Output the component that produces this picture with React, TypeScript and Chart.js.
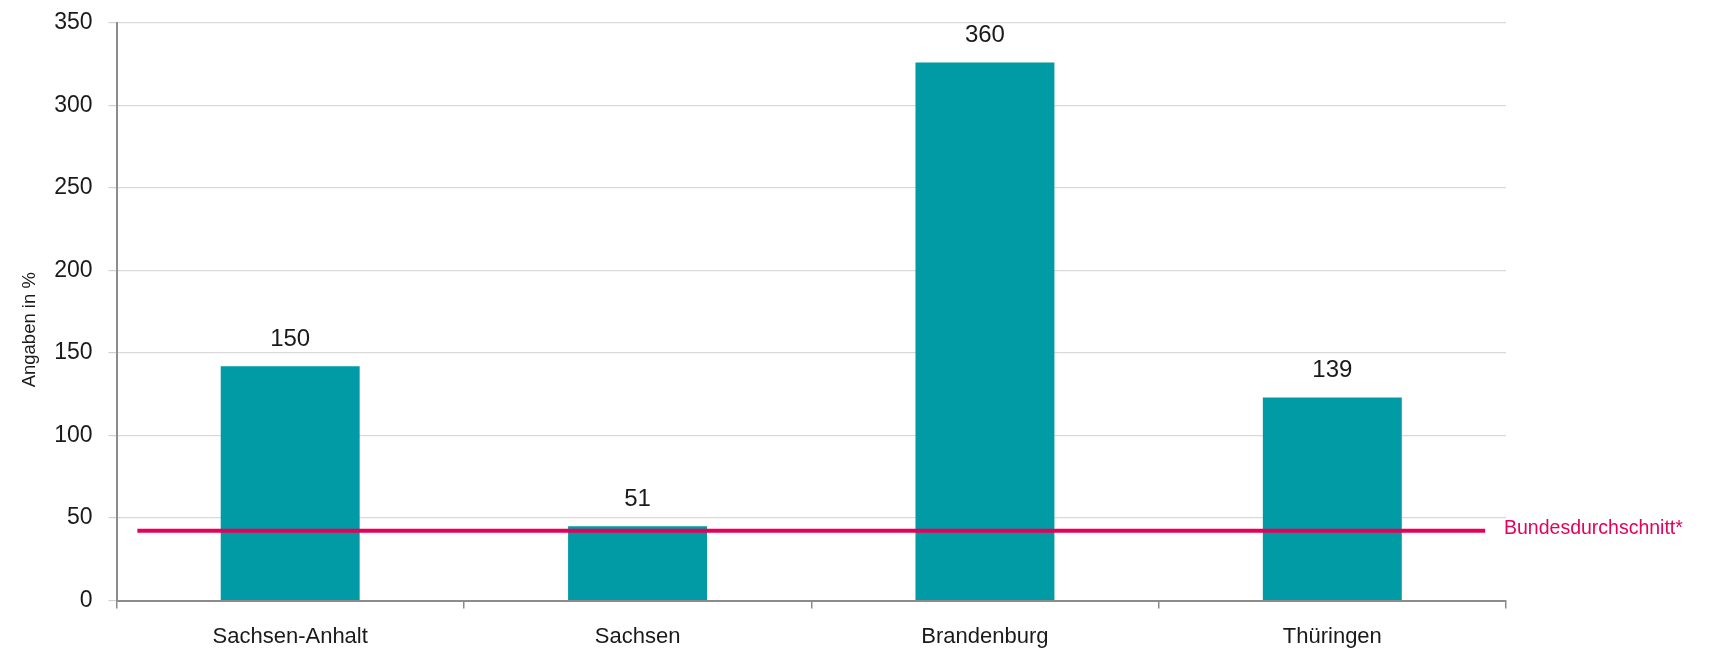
import React, { useEffect, useRef } from 'react';
import { Chart, registerables } from 'chart.js';

Chart.register(...registerables);

const categories = ['Sachsen-Anhalt', 'Sachsen', 'Brandenburg', 'Thüringen'];
const barValues = [142, 45, 326, 123];
const barLabels = ['150', '51', '360', '139'];
const averageValue = 42.3;
const averageLabel = 'Bundesdurchschnitt*';
const yAxisTitle = 'Angaben in %';
const yMin = 0;
const yMax = 350;
const yStep = 50;

const FONT = '"Liberation Sans", Arial, sans-serif';
const TEXT = '#1a1a1a';
const BAR = '#009ba4';
const PINK = '#e5005a';

const overlayPlugin = {
  id: 'overlay',
  afterDatasetsDraw(chart: any) {
    const ctx = chart.ctx;
    const x = chart.scales.x;
    const y = chart.scales.y;
    const meta = chart.getDatasetMeta(0);
    ctx.save();
    // value labels above bars
    ctx.font = `24px ${FONT}`;
    ctx.fillStyle = TEXT;
    ctx.textAlign = 'center';
    ctx.textBaseline = 'middle';
    meta.data.forEach((bar: any, i: number) => {
      ctx.fillText(barLabels[i], bar.x, bar.y - 27);
    });
    // average line
    const ly = y.getPixelForValue(averageValue);
    const x0 = x.getPixelForValue(-0.44);
    const x1 = x.getPixelForValue(categories.length - 1 + 0.44);
    ctx.strokeStyle = PINK;
    ctx.lineWidth = 4;
    ctx.beginPath();
    ctx.moveTo(x0, ly);
    ctx.lineTo(x1, ly);
    ctx.stroke();
    ctx.font = `19.5px ${FONT}`;
    ctx.fillStyle = PINK;
    ctx.textAlign = 'left';
    ctx.fillText(averageLabel, x.right - 2, ly - 2);
    // y axis title
    ctx.translate(30, (y.top + y.bottom) / 2 + 18);
    ctx.rotate(-Math.PI / 2);
    ctx.font = `18.5px ${FONT}`;
    ctx.fillStyle = TEXT;
    ctx.textAlign = 'center';
    ctx.textBaseline = 'middle';
    ctx.fillText(yAxisTitle, 0, 0);
    ctx.restore();
  },
};

export default function App() {
  const ref = useRef<HTMLCanvasElement>(null);
  useEffect(() => {
    if (!ref.current) return;
    const chart = new Chart(ref.current, {
      type: 'bar',
      data: {
        labels: categories,
        datasets: [
          {
            data: barValues,
            backgroundColor: BAR,
            borderWidth: 0,
            barPercentage: 0.4,
            categoryPercentage: 1.0,
          },
        ],
      },
      options: {
        responsive: false,
        animation: false,
        layout: { padding: { top: 23, right: 218, left: 0, bottom: 0 } },
        plugins: { legend: { display: false }, tooltip: { enabled: false } },
        scales: {
          x: {
            afterFit: (s: any) => {
              s.height = 50.5;
              s.paddingLeft = 0;
              s.paddingRight = 0;
            },
            grid: {
              display: true,
              drawOnChartArea: false,
              drawTicks: true,
              tickLength: 8,
              color: '#8c8c8c',
              lineWidth: 1.5,
            },
            border: { display: true, color: '#8c8c8c', width: 2 },
            ticks: {
              font: { family: FONT, size: 22 },
              color: TEXT,
              padding: 15,
            },
          },
          y: {
            min: yMin,
            max: yMax,
            afterFit: (s: any) => {
              s.width = 116.5;
              s.paddingTop = 0;
              s.paddingBottom = 0;
            },
            ticks: {
              stepSize: yStep,
              font: { family: FONT, size: 23 },
              color: TEXT,
              padding: 16,
            },
            grid: {
              color: '#d9d9d9',
              lineWidth: 1.2,
              tickLength: 8,
              tickColor: '#d0d0d0',
            },
            border: { display: true, color: '#8c8c8c', width: 2 },
          },
        },
      },
      plugins: [overlayPlugin],
    });
    return () => chart.destroy();
  }, []);
  return (
    <canvas
      ref={ref}
      width={1724}
      height={651}
      style={{ position: 'absolute', left: 0, top: 0, width: 1724, height: 651 }}
    />
  );
}
